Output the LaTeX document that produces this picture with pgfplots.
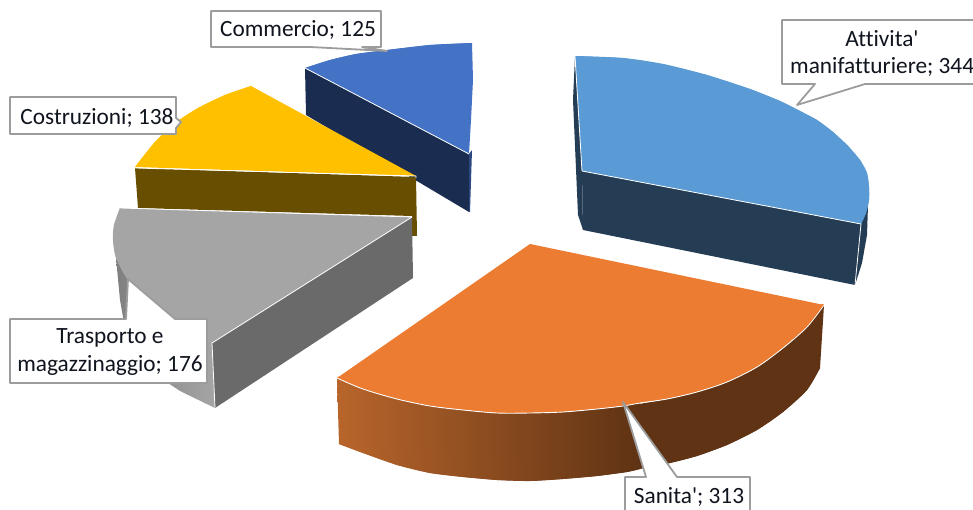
\documentclass[border=0pt]{standalone}
\usepackage{pgfplots}
\pgfplotsset{compat=1.18}
\usepackage{fontspec}
\setmainfont{Carlito}[Ligatures=NoCommon]
\definecolor{lblue}{HTML}{5B9BD5}
\definecolor{lbluedk}{HTML}{243D55}
\definecolor{orange1}{HTML}{EB7C31}
\definecolor{orangedk}{HTML}{5F3314}
\definecolor{orangemd}{HTML}{B8652B}
\definecolor{gray1}{HTML}{A5A5A5}
\definecolor{graydk}{HTML}{6A6A6A}
\definecolor{yellow1}{HTML}{FFC000}
\definecolor{yellowdk}{HTML}{674E00}
\definecolor{blue1}{HTML}{4472C4}
\definecolor{bluedk}{HTML}{1A2D50}
\definecolor{boxline}{HTML}{9C9C9C}
\definecolor{txt}{HTML}{10141E}
\begin{document}
\begin{tikzpicture}
\clip (0,0) rectangle (973pt,510pt);
\begin{axis}[
  scale only axis, width=973pt, height=510pt,
  xmin=0, xmax=973, ymin=0, ymax=510, y dir=reverse,
  hide axis, clip=false,
  every axis plot/.append style={line join=round},
  nodes={font=\fontsize{23.3}{28}\selectfont, text=txt, inner sep=0pt}
]
% Commercio
\addplot[fill=bluedk, draw=none] coordinates {(305,68)(306,115)(469,212)(469,154)} --cycle;
\addplot[fill=bluedk!60!blue1, draw=none] coordinates {(469,154)(472,150)(470,212)(469,212)} --cycle;
\addplot[fill=blue1, draw=none] coordinates {(305,68)(330,60)(356,54)(387,50)(430,45)(472,43)(473,80)(471,120)(469,154)} --cycle;
\addplot[fill=blue1, draw=none, smooth] coordinates {(305,68)(330,60)(356,54)(387,50)(430,45)(472,43)};
\addplot[white, line width=0.8pt] coordinates {(305,68)(469,154)};
% Costruzioni
\addplot[fill=yellowdk, draw=none] coordinates {(135,168)(416,177)(417,236)(412,236)(412,216)(138,208)} --cycle;
\addplot[fill=yellow1, draw=none] coordinates {(251,86)(225,95)(198,108)(175,123)(155,142)(142,158)(135,167)(416,176)} --cycle;
\addplot[fill=yellow1, draw=none, smooth] coordinates {(251,86)(225,95)(198,108)(175,123)(155,142)(142,158)(135,167)};
\addplot[white, line width=0.8pt] coordinates {(135,168)(416,176)(416,178)};
% Trasporto
\addplot[shade, left color=black!50, right color=gray1, draw=none] coordinates {(116,258)(128,280)(150,305)(180,325)(212,343)(215,408)(180,391)(150,371)(128,345)(120,300)} --cycle;
\addplot[fill=graydk, draw=none] coordinates {(212,343)(412,217)(413,278)(215,408)} --cycle;
\addplot[fill=gray1, draw=none] coordinates {(120,208)(114,225)(113,240)(116,258)(128,280)(150,305)(180,325)(212,343)(412,217)} --cycle;
\addplot[fill=gray1, draw=none, smooth] coordinates {(120,208)(114,225)(113,240)(116,258)(128,280)(150,305)(180,325)(212,343)};
\addplot[white, line width=0.8pt] coordinates {(120,208)(412,217)(212,343)(215,408)};
% Attivita
\addplot[fill=lbluedk, draw=none] coordinates {(575,56)(573,100)(578,215)(583,230)(582,171)} --cycle;
\addplot[fill=lbluedk, draw=none] coordinates {(582,171)(861,224)(868,205)(867,235)(862,263)(855,285)(583,230)} --cycle;
\addplot[fill=lblue, draw=none] coordinates {(575,56)(623,58)(663,64)(707,75)(750,89)(780,101)(800,111)(817,120)(833,132)(848,146)(860,160)(867,173)(869,187)(869,200)(866,213)(861,224)(582,171)} --cycle;
\addplot[fill=lblue, draw=none, smooth] coordinates {(575,56)(623,58)(663,64)(707,75)(750,89)(780,101)(800,111)(817,120)(833,132)(848,146)(860,160)(867,173)(869,187)(869,200)(866,213)(861,224)};
\addplot[white, line width=0.8pt] coordinates {(575,56)(582,171)(861,224)(855,285)};
% Sanita
\addplot[shade, left color=orangemd, right color=orangedk, draw=none] coordinates {(337,378)(363,389)(397,399)(430,406)(463,410)(497,413)(530,413)(563,412)(597,409)(623,406)(640,403)(640,469)(627,472)(597,476)(563,479)(530,481)(497,480)(463,477)(430,473)(397,465)(363,453)(339,444)} --cycle;
\addplot[shade, left color=orangemd, right color=orangedk, draw=none, smooth] coordinates {(339,444)(363,453)(397,465)(430,473)(463,477)(497,480)(530,481)(563,479)(597,476)(627,472)(640,469)};
\addplot[fill=orangedk, draw=none] coordinates {(639,404)(667,399)(697,392)(727,382)(757,367)(783,348)(807,327)(824,305)(820,368)(807,390)(783,412)(757,430)(727,445)(697,456)(670,463)(639,469)} --cycle;
\addplot[fill=orangedk, draw=none, smooth] coordinates {(639,469)(670,463)(697,456)(727,445)(757,430)(783,412)(807,390)(820,368)};
\addplot[fill=orange1, draw=none] coordinates {(530,244)(824,305)(807,327)(783,348)(757,367)(727,382)(697,392)(667,399)(640,403)(623,406)(597,409)(563,412)(530,413)(497,413)(463,410)(430,406)(397,399)(363,389)(337,378)} --cycle;
\addplot[white, line width=0.9pt, smooth] coordinates {(337,378)(363,389)(397,399)(430,406)(463,410)(497,413)(530,413)(563,412)(597,409)(623,406)(640,403)(667,399)(697,392)(727,382)(757,367)(783,348)(807,327)(824,305)};
\addplot[fill=orange1, draw=none, smooth] coordinates {(337,377)(363,388)(397,398)(430,405)(463,409)(497,412)(530,412)(563,411)(597,408)(623,405)(640,402)(667,398)(697,391)(727,381)(757,366)(783,347)(807,326)(824,304)};
% Callouts
\addplot[fill=white, draw=boxline, line width=1.8pt] coordinates {(211,11)(381,11)(381,47)(362,47)(387,51)(310,47)(211,47)} --cycle;
\addplot[fill=white, draw=boxline, line width=1.8pt] coordinates {(10,97)(176,97)(176,118)(181,122)(176,128)(176,134)(10,134)} --cycle;
\addplot[fill=white, draw=boxline, line width=1.8pt] coordinates {(782,20)(985,20)(985,84)(865,84)(797,105)(815,84)(782,84)} --cycle;
\addplot[fill=white, draw=boxline, line width=1.8pt] coordinates {(10,319)(126,319)(128,279)(175,319)(207,319)(207,383)(10,383)} --cycle;
\addplot[fill=white, draw=boxline, line width=1.8pt] coordinates {(625,477)(646,477)(623,402)(677,477)(750,477)(750,520)(625,520)} --cycle;
\node at (axis cs:298,30) {Commercio; 125};
\node at (axis cs:97,118) {Costruzioni; 138};
\node at (axis cs:882,39) {Attivita\textquotesingle};
\node[anchor=west] at (axis cs:790,67) {manifatturiere; 344};
\node at (axis cs:110,338) {Trasporto e};
\node at (axis cs:110,365) {magazzinaggio; 176};
\node at (axis cs:689,497) {Sanita\textquotesingle; 313};
\end{axis}
\end{tikzpicture}
\end{document}
